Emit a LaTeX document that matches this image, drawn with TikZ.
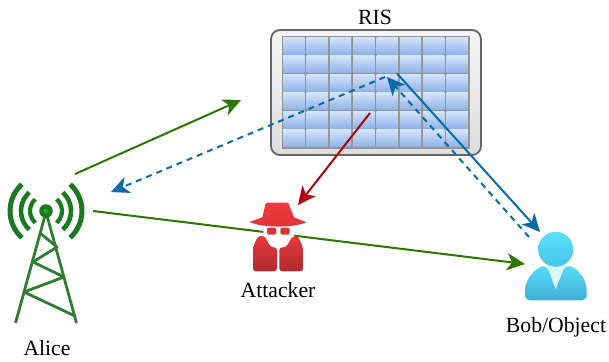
\documentclass[tikz,border=0pt]{standalone}
\usepackage{fontspec}
\setmainfont{Liberation Serif}
\usetikzlibrary{arrows.meta}
\definecolor{greenline}{HTML}{2D7600}
\definecolor{blueline}{HTML}{0A6BAA}
\definecolor{redline}{HTML}{B0000E}
\definecolor{towergreen}{HTML}{2E7D32}
\definecolor{towerdark}{HTML}{1B7A1F}
\definecolor{cellTop}{HTML}{D4E4FA}
\definecolor{cellBot}{HTML}{8FB3E8}
\definecolor{attTop}{HTML}{E8383D}
\definecolor{attBot}{HTML}{B02A30}
\definecolor{attEye}{HTML}{D93438}
\definecolor{hatTop}{HTML}{F0393E}
\definecolor{hatBot}{HTML}{DE3338}
\definecolor{headTop}{HTML}{5CDFFC}
\definecolor{headBot}{HTML}{48C4E8}
\definecolor{bodyBot}{HTML}{3FAFD6}
\definecolor{collar}{HTML}{D8F6FC}
\tikzset{
  lbl/.style={inner sep=0pt,font=\fontsize{21.7}{24}\selectfont,text=black},
  conn/.style={line width=2pt,-{Stealth[length=18pt,width=17pt,inset=5pt]}},
  conndash/.style={line width=2pt,dash pattern=on 6pt off 5pt,-{Stealth[length=18pt,width=17pt,inset=5pt]}},
  cell/.style={top color=cellTop,bottom color=cellBot,draw=none},
  towerbar/.style={draw=towergreen,line width=2.8pt,line cap=round},
  wave/.style={draw=towerdark,line cap=butt},
}
\begin{document}
\begin{tikzpicture}[x=1pt,y=1pt]
\useasboundingbox (0,0) rectangle (609,-361);
% --- RIS panel
\path[draw=black!60,line width=1.8pt,rounded corners=9pt,top color=black!4,bottom color=black!13]
  (271,-30) rectangle (481,-155);
\fill[black!42] (281.8,-36) rectangle (470.3,-148.5);
\foreach \c in {0,...,7}{
  \foreach \r in {0,...,5}{
    \path[cell] ({283.2+23.33*\c},{-37.3-18.5*\r}) rectangle ++(21.3,-16.8);
  }
}
% --- connector end points
\coordinate (aliceOut) at (75,-174);
\coordinate (aliceIn) at (111,-192);
\coordinate (aliceOutB) at (93,-211);
\coordinate (risIn) at (241,-100);
\coordinate (risOutDash) at (385,-77);
\coordinate (risOutSolid) at (397,-73.5);
\coordinate (risOutRed) at (370,-113);
\coordinate (risInDash) at (387,-77);
\coordinate (attackerIn) at (298,-205);
\coordinate (bobIn) at (540,-232);
\coordinate (bobOutDash) at (529,-237);
\coordinate (bobInB) at (525,-264);
% --- direct path, drawn beneath the icons
\draw[conn,draw=greenline] (aliceOutB) -- (bobInB);
% --- tower
\coordinate (tw) at (46,-211);
\foreach \r/\w in {16/4.2,25/4.6,36/5}{
  \draw[wave,line width=\w pt] (tw) ++(132:\r pt) arc[start angle=132,end angle=228,radius=\r pt];
  \draw[wave,line width=\w pt] (tw) ++(48:\r pt) arc[start angle=48,end angle=-48,radius=\r pt];
}
\draw[towerbar,line cap=butt] (15.5,-323) -- (46,-212) -- (76.5,-323);
\draw[towerbar,line join=round] (40,-233) -- (57,-247) -- (33,-262) -- (64,-277) -- (24,-292) -- (75,-316);
\fill[towerdark] (tw) circle[radius=6.8pt];
\fill[towergreen!70!green] (tw) circle[radius=2.5pt];
% --- attacker
\begin{scope}[shift={(230,-190)},x=0.3333pt,y=-0.3333pt]
  \fill[white] (100,105) -- (192,105) -- (192,140) -- (165,178) -- (125,178) -- (100,140) -- cycle;
  \path[top color=hatTop,bottom color=hatBot,draw=none]
    (58,96) -- (97,82) -- (106,44) .. controls (107,39) and (108,38) .. (113,38) -- (170,38) .. controls (175,38) and (176,39) .. (177,44) -- (192,82) -- (229,97) .. controls (190,114) and (100,114) .. (58,96) -- cycle;
  \path[top color=attTop,bottom color=attBot,draw=none,rounded corners=3pt]
    (69,172) -- (84,138) -- (104,138) -- (122,172) -- (141,172) -- (141,244) -- (69,244) -- cycle;
  \path[top color=attTop,bottom color=attBot,draw=none,rounded corners=3pt]
    (219,172) -- (204,138) -- (188,138) -- (168,172) -- (148,172) -- (148,244) -- (219,244) -- cycle;
  \fill[attEye,rounded corners=2pt] (111,113) rectangle (139,134);
  \fill[attEye,rounded corners=2pt] (151,113) rectangle (179,134);
\end{scope}
% --- person
\begin{scope}[shift={(500,-200)},x=0.3333pt,y=-0.3333pt]
  \path[top color=headTop,bottom color=headBot,draw=none] (167,148) circle[radius=17.5pt];
  \path[top color=headTop!85!headBot,bottom color=bodyBot,draw=none,rounded corners=5pt]
    (75,301) -- (75,285) .. controls (75,240) and (105,205) .. (140,195) -- (167,265) -- (195,195) .. controls (235,205) and (260,240) .. (260,285) -- (260,301) -- cycle;
  \fill[collar] (140,196) .. controls (160,203) and (175,203) .. (195,196) -- (167,267) -- cycle;
\end{scope}
% --- connectors
\draw[conn,draw=greenline] (aliceOut) -- (risIn);
\draw[conndash,draw=blueline] (risOutDash) -- (aliceIn);
\draw[conn,draw=blueline] (risOutSolid) -- (bobIn);
\draw[conndash,draw=blueline] (bobOutDash) -- (risInDash);
\draw[conn,draw=redline] (risOutRed) -- (attackerIn);
% --- labels
\node[lbl] (ris) at (375,-17) {RIS};
\node[lbl] (alice) at (47,-348) {Alice};
\node[lbl] (attacker) at (278,-290) {Attacker};
\node[lbl] (bob) at (556,-327) {Bob/Object};
\end{tikzpicture}
\end{document}
